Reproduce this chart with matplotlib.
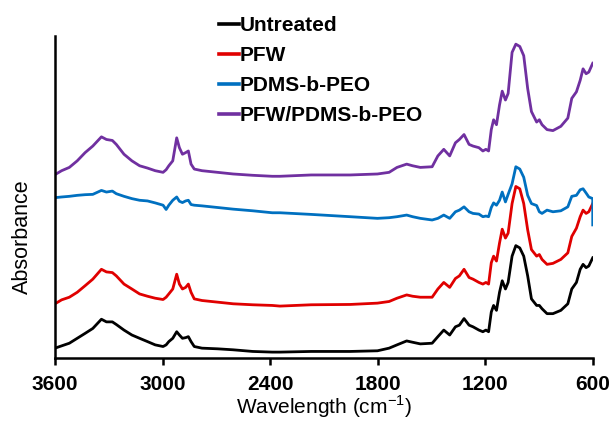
import matplotlib
matplotlib.use("Agg")
import matplotlib.pyplot as plt

plt.rcParams['font.family'] = ['Liberation Sans', 'DejaVu Sans']

wavenumber = [3600, 3563, 3520, 3476, 3432, 3389, 3341, 3313, 3280, 3258, 3215, 3171, 3128, 3084,
              3041, 2997, 2980, 2965, 2943, 2921, 2906, 2889, 2871, 2856, 2841, 2823, 2780, 2693,
              2606, 2497, 2388, 2345, 2171, 1953, 1801, 1736, 1692, 1638, 1605, 1562, 1496, 1464,
              1431, 1398, 1366, 1344, 1318, 1290, 1268, 1235, 1213, 1196, 1181, 1166, 1153, 1137,
              1120, 1105, 1087, 1072, 1050, 1029, 1007, 985, 963, 942, 913, 898, 883, 855, 822,
              778, 739, 717, 691, 670, 654, 637, 622, 600]

untreated = [.030, .037, .045, .060, .075, .090, .118, .110, .110, .102, .085, .070, .060, .050,
             .040, .035, .040, .050, .060, .080, .070, .060, .062, .065, .050, .035, .030, .028,
             .025, .020, .018, .018, .020, .020, .022, .030, .040, .052, .048, .043, .045, .065,
             .085, .070, .095, .100, .120, .100, .095, .085, .080, .085, .080, .140, .160, .145,
             .200, .235, .210, .230, .310, .342, .335, .310, .250, .180, .160, .160, .150, .135, .135,
             .145, .165, .210, .230, .270, .285, .275, .280, .305]

pfw = [.165, .177, .185, .200, .220, .240, .270, .262, .260, .250, .225, .210, .195, .188,
       .182, .178, .185, .195, .210, .255, .225, .210, .215, .225, .200, .180, .175, .170,
       .165, .162, .160, .158, .162, .163, .167, .172, .182, .192, .188, .185, .185, .210,
       .230, .215, .242, .250, .270, .245, .240, .230, .225, .230, .225, .290, .310, .295,
       .350, .392, .365, .380, .470, .522, .515, .470, .390, .330, .310, .315, .300, .285, .288,
       .300, .320, .370, .395, .430, .450, .440, .445, .470]

pdms_peo = [.488, .490, .492, .495, .497, .498, .510, .505, .508, .500, .492, .485, .480, .478,
            .472, .465, .452, .465, .480, .490, .477, .473, .478, .480, .467, .465, .463, .458,
            .453, .448, .442, .442, .437, .430, .425, .427, .430, .435, .430, .425, .420, .425,
            .435, .425, .445, .450, .460, .445, .440, .438, .430, .432, .430, .458, .472, .465,
            .480, .505, .475, .498, .530, .582, .575, .550, .495, .470, .464, .445, .440, .450, .445,
            .448, .460, .492, .495, .512, .515, .502, .490, .485]
pdms_peo_tail_wn = [600]
pdms_peo_tail = [.405]

pfw_pdms_peo = [.558, .570, .580, .600, .625, .645, .673, .665, .662, .650, .620, .600, .585, .578,
                .570, .565, .573, .585, .600, .670, .640, .620, .625, .630, .590, .575, .570, .565,
                .560, .556, .553, .553, .557, .557, .560, .565, .580, .590, .585, .580, .582, .615,
                .635, .615, .655, .665, .680, .650, .645, .640, .630, .635, .630, .695, .725, .710,
                .770, .812, .785, .805, .930, .955, .948, .920, .820, .750, .718, .725, .710, .695, .692,
                .705, .730, .790, .810, .845, .880, .865, .870, .897]

labels = ["Untreated", "PFW", "PDMS-b-PEO", "PFW/PDMS-b-PEO"]
colors = ["#000000", "#E00000", "#0070C0", "#7030A0"]
x_ticks = [3600, 3000, 2400, 1800, 1200, 600]

fig = plt.figure(figsize=(6.09, 4.21), dpi=100)
ax = fig.add_axes([0.0903, 0.1496, 0.883, 0.765])

series = [
    (wavenumber, untreated),
    (wavenumber, pfw),
    (wavenumber + pdms_peo_tail_wn, pdms_peo + pdms_peo_tail),
    (wavenumber, pfw_pdms_peo),
]
for (x, y), lab, c in zip(series, labels, colors):
    ax.plot(x, y, color=c, lw=2.0, label=lab, solid_joinstyle='round')

ax.set_xlim(3600, 600)
ax.set_ylim(0, 0.98)
ax.set_xticks(x_ticks)
ax.set_xticklabels([str(t) for t in x_ticks], fontweight='bold', fontsize=15)
ax.set_yticks([])
for s in ['top', 'right']:
    ax.spines[s].set_visible(False)
for s in ['left', 'bottom']:
    ax.spines[s].set_linewidth(1.8)
ax.tick_params(axis='x', direction='out', length=5, width=1.8, pad=7)
ax.set_xlabel("Wavelength (cm$^{\\mathregular{-1}}$)", fontsize=15, labelpad=0)
ax.set_ylabel("Absorbance", fontsize=15.5)
ax.yaxis.set_label_coords(-0.041, 0.376)

leg = ax.legend(loc='upper left', bbox_to_anchor=(219 / 609, 1 - 16 / 421),
                bbox_transform=fig.transFigure,
                frameon=False, handlelength=0.95, handletextpad=0.05, labelspacing=0.53,
                prop={'weight': 'bold', 'size': 15}, borderaxespad=0, borderpad=0)
for line in leg.get_lines():
    line.set_linewidth(2.6)

fig.savefig("out.png", dpi=100)
